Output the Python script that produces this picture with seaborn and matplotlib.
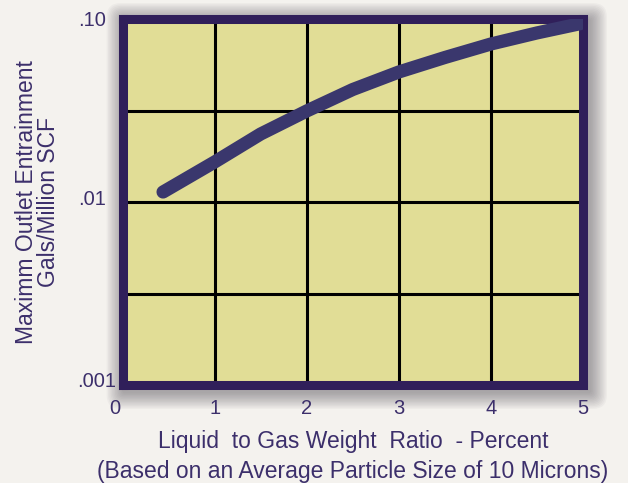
import matplotlib
matplotlib.use("Agg")
import matplotlib.pyplot as plt
import matplotlib.transforms as mtransforms
from matplotlib.patches import FancyBboxPatch
import pandas as pd
import seaborn as sns

# Liquid-to-gas weight ratio (%) and maximum outlet entrainment (gal / MMSCF)
ratio_pct = [0.44, 1.0, 1.5, 2.0, 2.5, 3.0, 3.5, 4.0, 4.5, 4.97]
entrainment = [0.01134, 0.01654, 0.02353, 0.03143, 0.04118, 0.05133,
               0.0616, 0.0730, 0.0839, 0.0943]

x_ticks = [0, 1, 2, 3, 4, 5]
y_ticks = [0.001, 0.01, 0.1]
y_tick_labels = [".001", ".01", ".10"]
y_half_decades = [0.00316, 0.0316]

BG = "#f4f2ee"
FACE = "#e1dd96"
BORDER = "#301f5a"
LINE = "#3a376d"
TEXT = "#3c2f6b"

sns.set_theme(style="white")
plt.rcParams["font.family"] = ["Liberation Sans", "DejaVu Sans"]

df = pd.DataFrame({"ratio": ratio_pct, "entrainment": entrainment})

AX_RECT = [0.1951, 0.2029, 0.7333, 0.7578]
fig = plt.figure(figsize=(6.28, 4.83), dpi=100, facecolor=BG)
ax = fig.add_axes(AX_RECT)
ax.set_facecolor(FACE)
ax.set_yscale("log")

# soft drop shadow behind the framed plot box
W, H = fig.bbox.width, fig.bbox.height
x0, y0 = AX_RECT[0] * W, AX_RECT[1] * H
w, h = AX_RECT[2] * W, AX_RECT[3] * H
for k in range(12):
    grow = 4.5 + k * 1.4
    sh = FancyBboxPatch((x0 - grow + 4, y0 - grow - 4), w + 2 * grow, h + 2 * grow,
                        boxstyle="round,pad=0,rounding_size=%g" % (3 + k),
                        transform=None, facecolor="#4a4550", edgecolor="none",
                        alpha=0.045, zorder=-5)
    fig.patches.append(sh)

sns.lineplot(data=df, x="ratio", y="entrainment", ax=ax, color=LINE,
             linewidth=9.5, zorder=4, solid_capstyle="round",
             solid_joinstyle="round")

ax.set_xlim(0, 5)
ax.set_ylim(0.001, 0.1)
ax.set_xticks(x_ticks)
ax.set_xticklabels([str(t) for t in x_ticks])
ax.set_yticks(y_ticks)
ax.set_yticklabels(y_tick_labels)
ax.set_yticks(y_half_decades, minor=True)
ax.xaxis.set_minor_locator(matplotlib.ticker.NullLocator())

ax.grid(True, which="major", axis="x", color="black", linewidth=2.2)
ax.grid(True, which="both", axis="y", color="black", linewidth=2.2)
ax.set_axisbelow(True)

ax.tick_params(axis="both", which="both", length=0, colors=TEXT, labelsize=14.5)
ax.tick_params(axis="x", pad=10)
ax.tick_params(axis="y", pad=12)


def nudge(label, dx, dy):
    label.set_transform(label.get_transform() +
                        mtransforms.ScaledTranslation(dx / 100, dy / 100,
                                                      fig.dpi_scale_trans))


# keep the corner labels clear of each other
nudge(ax.get_xticklabels()[0], -8, 0)
ylabels = ax.get_yticklabels()
nudge(ylabels[0], 10, 5)
nudge(ylabels[1], 0, 4)

for sp in ax.spines.values():
    sp.set_visible(True)
    sp.set_color(BORDER)
    sp.set_linewidth(6.5)
    sp.set_capstyle("projecting")
    sp.set_zorder(3)

ax.set_xlabel("Liquid  to Gas Weight  Ratio  - Percent\n"
              "(Based on an Average Particle Size of 10 Microns)",
              fontsize=16.5, color=TEXT, linespacing=1.35, labelpad=9)
ax.set_ylabel("Maximm Outlet Entrainment\nGals/Million SCF",
              fontsize=16.5, color=TEXT, linespacing=0.95)
ax.yaxis.set_label_coords(-0.136, 0.5)

fig.savefig("out.png", dpi=100, facecolor=BG)
